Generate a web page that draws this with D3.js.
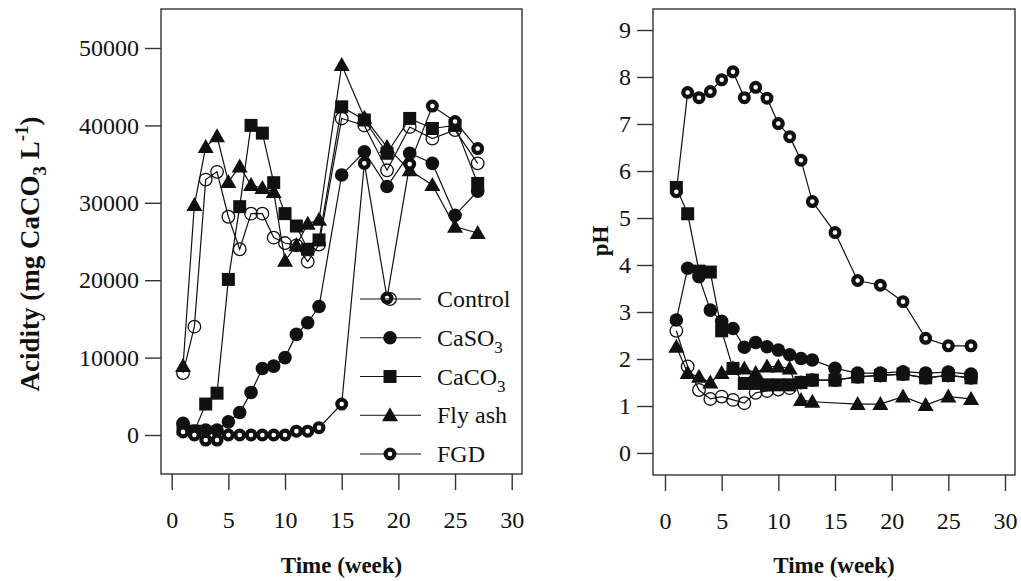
<!DOCTYPE html>
<html>
<head>
<meta charset="utf-8">
<script src="https://cdn.jsdelivr.net/npm/d3@7"></script>
<style>
  body { margin: 0; background: #fff; }
  svg { display: block; }
  text { font-family: "Liberation Serif", "DejaVu Serif", serif; }
</style>
</head>
<body>
<svg id="chart" width="1021" height="581"></svg>
<script>
// weeks sampled
const weeks = [1, 2, 3, 4, 5, 6, 7, 8, 9, 10, 11, 12, 13, 15, 17, 19, 21, 23, 25, 27];

// Acidity (mg CaCO3 / L)
const acidControl = [8000, 14000, 33000, 34000, 28200, 24000, 28600, 28600, 25500, 24800, 24500, 22400, 24600, 40900, 40000, 34200, 39800, 38300, 39400, 35100];
const acidCaSO3   = [1500, 500, 650, 650, 1700, 2900, 5500, 8600, 8900, 10000, 13000, 14500, 16600, 33600, 36600, 32100, 36400, 35100, 28400, 31500];
const acidCaCO3   = [800, 500, 4000, 5400, 20100, 29500, 40000, 39000, 32600, 28600, 27000, 24000, 25200, 42400, 40700, 36400, 40900, 39600, 40000, 32500];
const acidFlyAsh  = [8900, 29700, 37200, 38600, 32700, 34700, 32300, 31900, 31400, 22500, 24500, 27300, 27800, 47800, 41000, 37200, 34200, 32300, 26900, 26100];
const acidFGD     = [400, 0, -650, -650, 0, 0, 0, 0, 0, 0, 500, 500, 950, 4000, 35100, 17700, 35000, 42500, 40500, 37000];

// pH
const phControl = [2.6, 1.84, 1.34, 1.15, 1.2, 1.13, 1.06, 1.28, 1.32, 1.35, 1.38, 1.5, 1.55, 1.55, 1.62, 1.65, 1.68, 1.6, 1.65, 1.6];
const phCaSO3   = [2.83, 3.93, 3.75, 3.04, 2.8, 2.65, 2.25, 2.35, 2.26, 2.19, 2.09, 2.01, 1.98, 1.8, 1.7, 1.7, 1.73, 1.7, 1.72, 1.68];
const phCaCO3   = [5.65, 5.09, 3.87, 3.85, 2.6, 1.8, 1.48, 1.48, 1.45, 1.45, 1.45, 1.5, 1.55, 1.55, 1.62, 1.65, 1.68, 1.6, 1.65, 1.6];
const phFlyAsh  = [2.26, 1.7, 1.62, 1.5, 1.7, 1.8, 1.8, 1.7, 1.84, 1.84, 1.8, 1.13, 1.09, null, 1.04, 1.04, 1.2, 1.02, 1.2, 1.15];
const phFGD     = [5.56, 7.67, 7.56, 7.69, 7.94, 8.11, 7.56, 7.78, 7.55, 7.01, 6.73, 6.23, 5.35, 4.69, 3.67, 3.57, 3.22, 2.44, 2.28, 2.28];

const seriesNames = ['Control', 'CaSO3', 'CaCO3', 'Fly ash', 'FGD'];
const markerTypes = ['open', 'dot', 'square', 'tri', 'ring'];

const xTicks = [0, 5, 10, 15, 20, 25, 30];
const acidTicks = [0, 10000, 20000, 30000, 40000, 50000];
const phTicks = [0, 1, 2, 3, 4, 5, 6, 7, 8, 9];

const INK = '#111';
const SERIF = 'Liberation Serif, DejaVu Serif, serif';
const svg = d3.select('#chart').attr('font-family', SERIF);

function drawMarker(g, type, x, y) {
  if (type === 'open') {
    g.append('circle').attr('cx', x).attr('cy', y).attr('r', 6.3)
      .attr('fill', 'none').attr('stroke', INK).attr('stroke-width', 1.3);
  } else if (type === 'dot') {
    g.append('circle').attr('cx', x).attr('cy', y).attr('r', 6.8).attr('fill', INK);
  } else if (type === 'square') {
    g.append('rect').attr('x', x - 6.5).attr('y', y - 6.5).attr('width', 13).attr('height', 13).attr('fill', INK);
  } else if (type === 'tri') {
    const s = 8;
    g.append('path').attr('d', `M${x},${y - s}L${x + s},${y + s * 0.75}L${x - s},${y + s * 0.75}Z`).attr('fill', INK);
  } else if (type === 'ring') {
    g.append('circle').attr('cx', x).attr('cy', y).attr('r', 4.4)
      .attr('fill', '#fff').attr('stroke', INK).attr('stroke-width', 4.2);
  }
}

function panel(opts) {
  const { box, x, y, yTicks, data, yTitle } = opts;
  const g = svg.append('g');

  // series: lines then markers
  data.forEach((vals, i) => {
    const pts = weeks.map((w, j) => [w, vals[j]]).filter(p => p[1] !== null);
    g.append('path')
      .attr('d', d3.line().x(p => x(p[0])).y(p => y(p[1]))(pts))
      .attr('fill', 'none').attr('stroke', INK).attr('stroke-width', 1.2);
    pts.forEach(p => drawMarker(g, markerTypes[i], x(p[0]), y(p[1])));
  });

  // frame
  g.append('rect')
    .attr('x', box.left).attr('y', box.top)
    .attr('width', box.right - box.left).attr('height', box.bottom - box.top)
    .attr('fill', 'none').attr('stroke', '#333').attr('stroke-width', 1.4);

  // x axis
  const xa = g.append('g').attr('transform', `translate(0,${box.bottom})`)
    .call(d3.axisBottom(x).tickValues(xTicks).tickSize(16).tickSizeOuter(0).tickPadding(21));
  xa.attr('font-family', SERIF).attr('font-size', 24);
  xa.select('.domain').remove();
  xa.selectAll('line').attr('stroke', '#333').attr('stroke-width', 1.4);
  xa.selectAll('text').attr('fill', INK);

  // y axis
  const ya = g.append('g').attr('transform', `translate(${box.left},0)`)
    .call(d3.axisLeft(y).tickValues(yTicks).tickSize(16).tickSizeOuter(0).tickPadding(6).tickFormat(d3.format('d')));
  ya.attr('font-family', SERIF).attr('font-size', 24);
  ya.select('.domain').remove();
  ya.selectAll('line').attr('stroke', '#333').attr('stroke-width', 1.4);
  ya.selectAll('text').attr('fill', INK);

  // axis titles
  g.append('text')
    .attr('x', (box.left + box.right) / 2).attr('y', 573)
    .attr('text-anchor', 'middle').attr('font-size', 23).attr('font-weight', 'bold').attr('fill', INK)
    .text('Time (week)');

  const yt = g.append('text')
    .attr('transform', `translate(${opts.yTitleX},${opts.yTitleY}) rotate(-90)`)
    .attr('text-anchor', 'middle').attr('font-size', opts.yTitleSize).attr('font-weight', 'bold').attr('fill', INK);
  yTitle(yt);
  return g;
}

// Left panel: acidity
const xL = d3.scaleLinear().domain([0, 30]).range([171.7, 511.7]);
const yL = d3.scaleLinear().domain([0, 50000]).range([435, 48]);
panel({
  box: { left: 161, right: 522, top: 9, bottom: 474 },
  x: xL, y: yL, yTicks: acidTicks,
  data: [acidControl, acidCaSO3, acidCaCO3, acidFlyAsh, acidFGD],
  yTitleX: 39, yTitleY: 254, yTitleSize: 27,
  yTitle: t => {
    t.append('tspan').text('Acidity (mg CaCO');
    t.append('tspan').attr('font-size', 19).attr('dy', 7).text('3');
    t.append('tspan').attr('dy', -7).text(' L');
    t.append('tspan').attr('font-size', 19).attr('dy', -11).text('-1');
    t.append('tspan').attr('dy', 11).text(')');
  }
});

// Right panel: pH
const xR = d3.scaleLinear().domain([0, 30]).range([665, 1005]);
const yR = d3.scaleLinear().domain([0, 9]).range([453, 30]);
panel({
  box: { left: 653, right: 1015, top: 9, bottom: 475 },
  x: xR, y: yR, yTicks: phTicks,
  data: [phControl, phCaSO3, phCaCO3, phFlyAsh, phFGD],
  yTitleX: 608, yTitleY: 241, yTitleSize: 23,
  yTitle: t => t.text('pH')
});

// Legend (inside left panel)
const legY = d3.scaleLinear().domain([0, 4]).range([299, 454]);
const leg = svg.append('g');
seriesNames.forEach((name, i) => {
  const yy = legY(i);
  leg.append('line').attr('x1', 360).attr('x2', 421).attr('y1', yy).attr('y2', yy)
    .attr('stroke', INK).attr('stroke-width', 1.2);
  drawMarker(leg, markerTypes[i], 390, yy);
  const t = leg.append('text').attr('x', 437).attr('y', yy + 8)
    .attr('font-size', 24).attr('fill', INK);
  const m = name.match(/^(.*?)(\d)$/);
  if (m) {
    t.append('tspan').text(m[1]);
    t.append('tspan').attr('font-size', 17).attr('dy', 7).text(m[2]);
  } else {
    t.text(name);
  }
});
</script>
</body>
</html>
